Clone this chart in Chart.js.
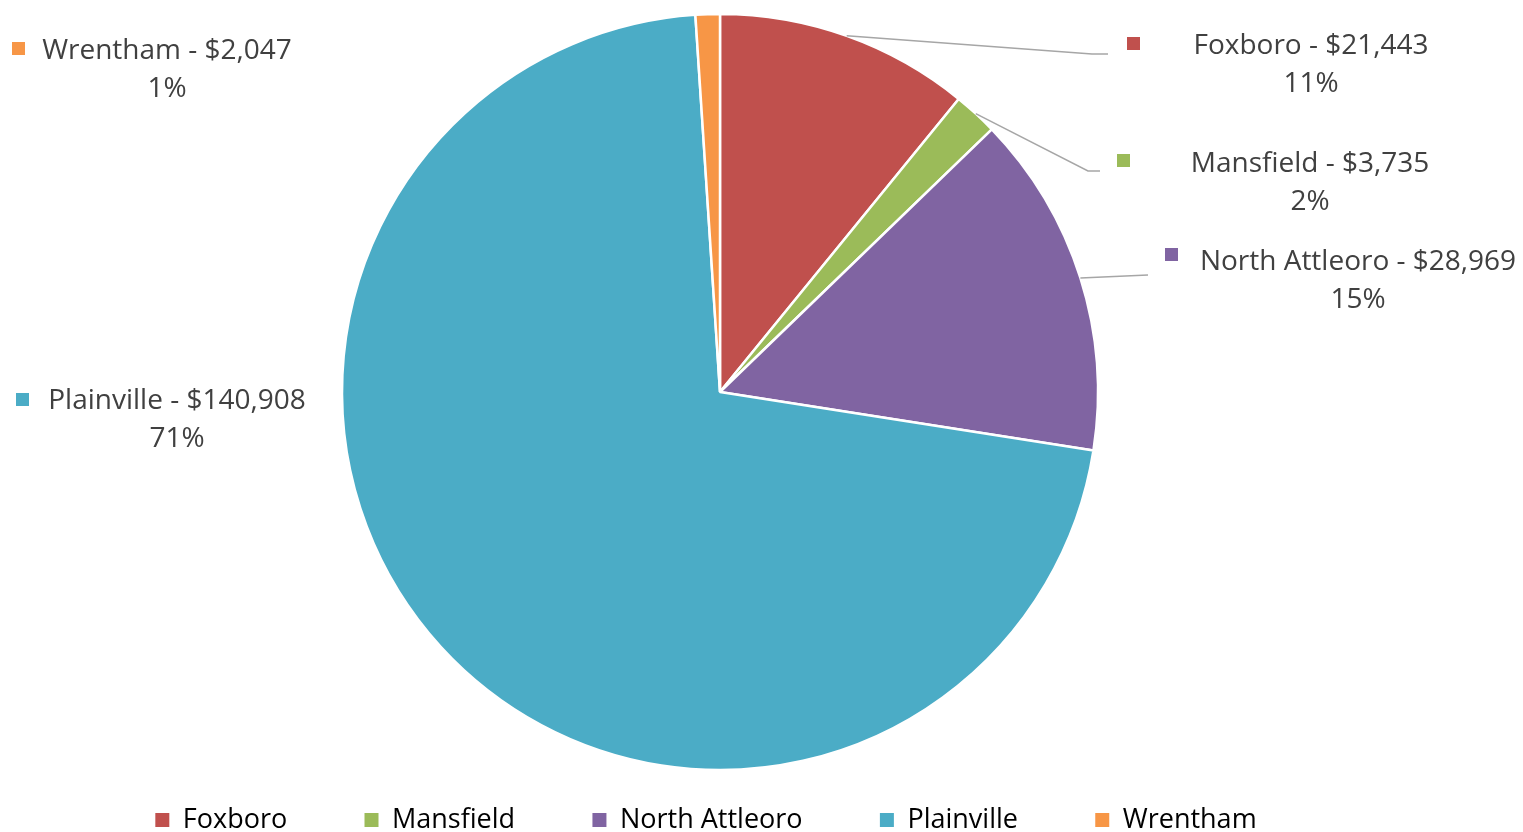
<!DOCTYPE html>
<html>
<head>
<meta charset="utf-8">
<script src="https://cdn.jsdelivr.net/npm/chart.js@4/dist/chart.umd.min.js"></script>
<style>
    html, body { margin: 0; padding: 0; background: #fff; }
</style>
</head>
<body>
<canvas id="pieChart" width="1523" height="832"></canvas>
<script>
const towns = ['Foxboro', 'Mansfield', 'North Attleoro', 'Plainville', 'Wrentham'];
const amounts = [21443, 3735, 28969, 140908, 2047];
const sliceColors = ['#C0504D', '#9BBB59', '#8064A2', '#4BACC6', '#F79646'];

const FONT = '"Open Sans"';
const TEXT_COLOR = '#404040';

// where each data label sits, as offsets from the pie centre (layout only)
const labelLayout = [
    { tx: 591, ty: -338, bx: 407, by: -355, elbow: [372, -338], end: [388, -338] },
    { tx: 590, ty: -220, bx: 397, by: -238, elbow: [368, -221], end: [380, -221] },
    { tx: 638, ty: -122, bx: 445, by: -144, elbow: [428, -117], end: [428, -117] },
    { tx: -543, ty: 17, bx: -704, by: 1, elbow: null, end: null },
    { tx: -553, ty: -333, bx: -708, by: -350, elbow: null, end: null }
];

const total = amounts.reduce((a, b) => a + b, 0);
const fmtMoney = v => '$' + v.toLocaleString('en-US');

const dataLabels = {
    id: 'dataLabels',
    afterDatasetsDraw(chart) {
        const ctx = chart.ctx;
        const arcs = chart.getDatasetMeta(0).data;
        ctx.save();
        arcs.forEach((arc, i) => {
            const { x, y, startAngle, endAngle, outerRadius } = arc.getProps(['x', 'y', 'startAngle', 'endAngle', 'outerRadius'], true);
            const L = labelLayout[i];
            const mid = (startAngle + endAngle) / 2;

            // leader line
            if (L.end) {
                ctx.strokeStyle = '#A6A6A6';
                ctx.lineWidth = 1.5;
                ctx.beginPath();
                ctx.moveTo(x + Math.cos(mid) * outerRadius, y + Math.sin(mid) * outerRadius);
                ctx.lineTo(x + L.elbow[0], y + L.elbow[1]);
                ctx.lineTo(x + L.end[0], y + L.end[1]);
                ctx.stroke();
            }

            // legend key
            ctx.fillStyle = sliceColors[i];
            ctx.fillRect(x + L.bx, y + L.by, 13, 13);

            // text
            ctx.fillStyle = TEXT_COLOR;
            ctx.font = '28px ' + FONT;
            ctx.textAlign = 'center';
            ctx.textBaseline = 'alphabetic';
            const pct = Math.round(amounts[i] / total * 100) + '%';
            ctx.fillText(towns[i] + ' - ' + fmtMoney(amounts[i]), x + L.tx, y + L.ty);
            ctx.fillText(pct, x + L.tx, y + L.ty + 38);
        });
        ctx.restore();
    }
};

new Chart(document.getElementById('pieChart'), {
    type: 'pie',
    data: {
        labels: towns,
        datasets: [{
            data: amounts,
            backgroundColor: sliceColors,
            borderColor: '#ffffff',
            borderWidth: 2.5
        }]
    },
    options: {
        responsive: false,
        animation: false,
        layout: { padding: { top: 12.75, left: 0, right: 83, bottom: -11.5 } },
        plugins: {
            tooltip: { enabled: false },
            legend: {
                position: 'bottom',
                align: 'center',
                labels: {
                    boxWidth: 14,
                    boxHeight: 14,
                    padding: 35.25,
                    color: '#595959',
                    font: { family: FONT, size: 27 },
                    generateLabels(chart) {
                        // trailing spaces widen the gap between items like the original
                        return towns.map((t, i) => ({
                            text: t + '\u00a0'.repeat(i < towns.length - 1 ? 6 : 4),
                            fillStyle: sliceColors[i],
                            strokeStyle: sliceColors[i],
                            lineWidth: 0,
                            hidden: false,
                            index: i
                        }));
                    }
                }
            }
        }
    },
    plugins: [dataLabels]
});
</script>
</body>
</html>
